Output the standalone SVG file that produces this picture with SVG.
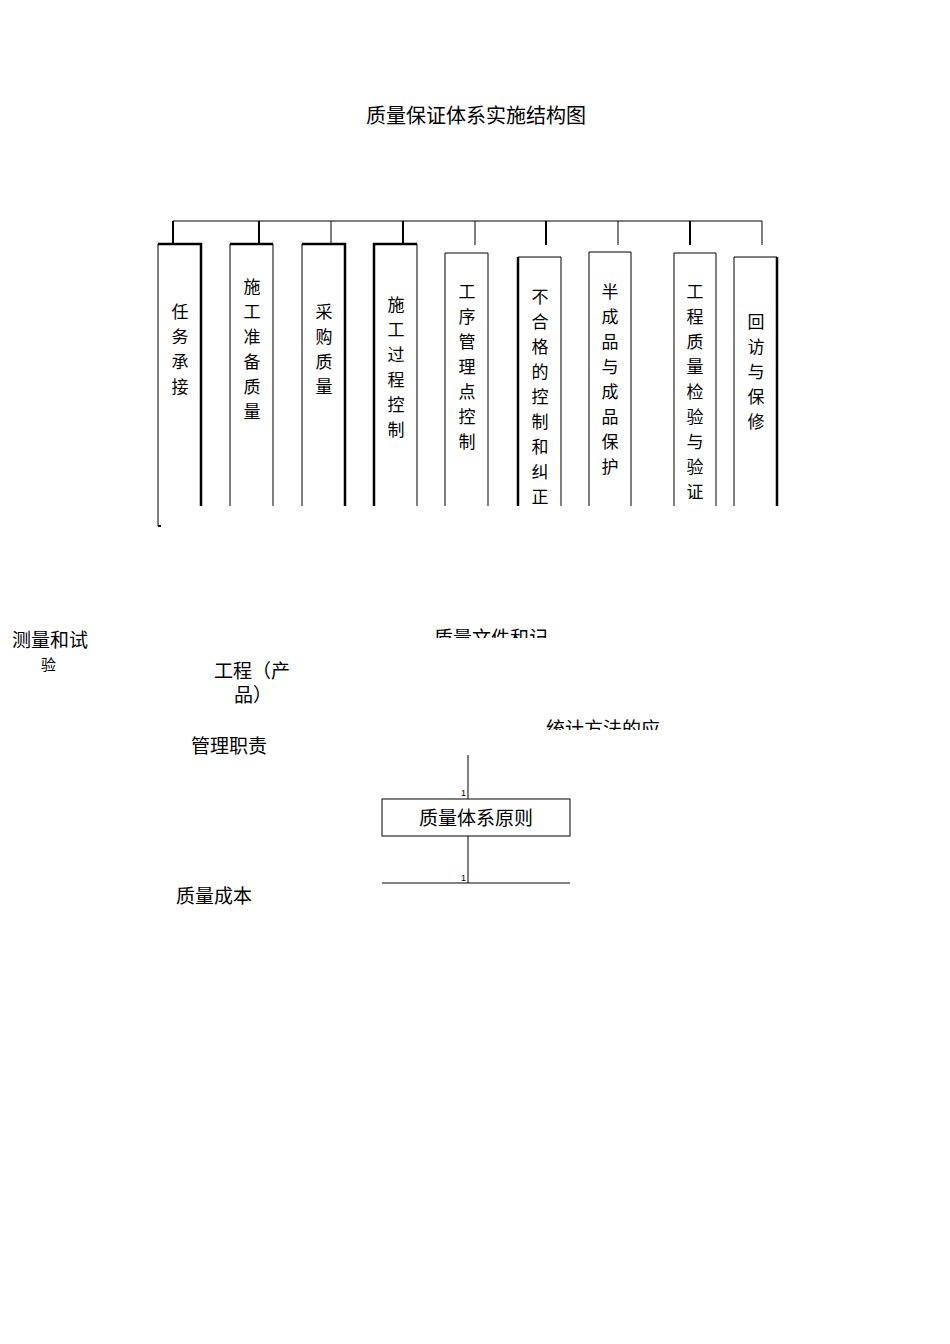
<svg xmlns="http://www.w3.org/2000/svg" width="950" height="1344" viewBox="0 0 950 1344">
<style>
text{font-family:"Liberation Sans","Noto Sans CJK SC",sans-serif;fill:#000}
.v{font-size:17px;text-anchor:middle;dominant-baseline:central}
.b{fill:none;stroke:#000;stroke-width:1}
.bt{fill:none;stroke:#000;stroke-width:2.5}
.l{font-size:19px}
.s{font-size:9px}
</style>
<defs>
<clipPath id="c1"><rect x="420" y="620" width="200" height="18"/></clipPath>
<clipPath id="c2"><rect x="530" y="705" width="200" height="25"/></clipPath>
</defs>
<text x="476" y="123" font-size="20" text-anchor="middle">质量保证体系实施结构图</text>
<g id="connectors" stroke="#000" fill="none">
<line x1="173" y1="221" x2="762" y2="221"/>
<line x1="173" y1="221" x2="173" y2="244" stroke-width="2"/>
<line x1="259" y1="221" x2="259" y2="244" stroke-width="2"/>
<line x1="331" y1="221" x2="331" y2="244"/>
<line x1="403" y1="221" x2="403" y2="244" stroke-width="2"/>
<line x1="475" y1="221" x2="475" y2="245"/>
<line x1="546" y1="221" x2="546" y2="245" stroke-width="2"/>
<line x1="618" y1="221" x2="618" y2="245"/>
<line x1="690" y1="221" x2="690" y2="245" stroke-width="2"/>
<line x1="762" y1="221" x2="762" y2="245"/>
<line x1="158" y1="506" x2="158" y2="526"/>
<line x1="158" y1="526" x2="161" y2="526" stroke-width="2"/>
<line x1="468" y1="755" x2="468" y2="799"/>
<line x1="468" y1="836" x2="468" y2="883"/>
<line x1="382" y1="883" x2="570" y2="883"/>
</g>
<g id="n1"><path class="b" d="M158 506V244"/><path class="bt" d="M158 244H201V506"/>
<text class="v" x="180" y="312">任</text><text class="v" x="180" y="337">务</text><text class="v" x="180" y="362">承</text><text class="v" x="180" y="387">接</text></g>
<g id="n2"><path class="b" d="M230 506V244"/><path class="bt" d="M230 244H273"/><path class="b" d="M273 244V506"/>
<text class="v" x="252" y="287">施</text><text class="v" x="252" y="312">工</text><text class="v" x="252" y="337">准</text><text class="v" x="252" y="362">备</text><text class="v" x="252" y="387">质</text><text class="v" x="252" y="412">量</text></g>
<g id="n3"><path class="b" d="M302 506V244"/><path class="bt" d="M302 244H345V506"/>
<text class="v" x="324" y="312">采</text><text class="v" x="324" y="337">购</text><text class="v" x="324" y="362">质</text><text class="v" x="324" y="387">量</text></g>
<g id="n4"><path class="bt" d="M374 506V244H417"/><path class="b" d="M417 244V506"/>
<text class="v" x="396" y="305">施</text><text class="v" x="396" y="330">工</text><text class="v" x="396" y="355">过</text><text class="v" x="396" y="380">程</text><text class="v" x="396" y="405">控</text><text class="v" x="396" y="430">制</text></g>
<g id="n5"><path class="b" d="M445 506V253H488V506"/>
<text class="v" x="467" y="292">工</text><text class="v" x="467" y="317">序</text><text class="v" x="467" y="342">管</text><text class="v" x="467" y="367">理</text><text class="v" x="467" y="392">点</text><text class="v" x="467" y="417">控</text><text class="v" x="467" y="442">制</text></g>
<g id="n6"><path class="bt" d="M518 506V257"/><path class="b" d="M518 257H561V506"/>
<text class="v" x="540" y="297">不</text><text class="v" x="540" y="322">合</text><text class="v" x="540" y="347">格</text><text class="v" x="540" y="372">的</text><text class="v" x="540" y="397">控</text><text class="v" x="540" y="422">制</text><text class="v" x="540" y="447">和</text><text class="v" x="540" y="472">纠</text><text class="v" x="540" y="497">正</text></g>
<g id="n7"><path class="b" d="M589 506V252H631V506"/>
<text class="v" x="610" y="292">半</text><text class="v" x="610" y="317">成</text><text class="v" x="610" y="342">品</text><text class="v" x="610" y="367">与</text><text class="v" x="610" y="392">成</text><text class="v" x="610" y="417">品</text><text class="v" x="610" y="442">保</text><text class="v" x="610" y="467">护</text></g>
<g id="n8"><path class="b" d="M674 506V253H716V506"/>
<text class="v" x="695" y="292">工</text><text class="v" x="695" y="317">程</text><text class="v" x="695" y="342">质</text><text class="v" x="695" y="367">量</text><text class="v" x="695" y="392">检</text><text class="v" x="695" y="417">验</text><text class="v" x="695" y="442">与</text><text class="v" x="695" y="467">验</text><text class="v" x="695" y="492">证</text></g>
<g id="n9"><path class="b" d="M734 506V257H777"/><path class="bt" d="M777 257V506"/>
<text class="v" x="756" y="322">回</text><text class="v" x="756" y="347">访</text><text class="v" x="756" y="372">与</text><text class="v" x="756" y="397">保</text><text class="v" x="756" y="422">修</text></g>
<g id="t1"><text class="l" x="12" y="647">测量和试</text><text x="41" y="670" font-size="15">验</text></g>
<g id="t2"><text class="l" x="214" y="678">工程（产</text><text class="l" x="234" y="702">品）</text></g>
<g id="t3"><text class="l" x="434" y="645" clip-path="url(#c1)">质量文件和记</text></g>
<g id="t4"><text class="l" x="546" y="736" clip-path="url(#c2)">统计方法的应</text></g>
<g id="t5"><text class="l" x="191" y="753">管理职责</text></g>
<g id="t6"><text class="l" x="176" y="903">质量成本</text></g>
<g id="n10"><rect class="b" x="382" y="799" width="188" height="37"/><text class="l" x="476" y="825" text-anchor="middle">质量体系原则</text>
<text class="s" x="461" y="796">1</text><text class="s" x="461" y="881">1</text></g>
</svg>
